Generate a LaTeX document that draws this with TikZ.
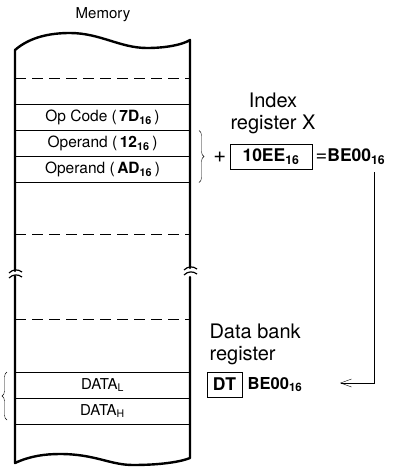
\documentclass[tikz,border=0pt]{standalone}
\usepackage{fontspec}
\setmainfont{TeX Gyre Heros}
\usetikzlibrary{positioning,arrows.meta,decorations.pathreplacing}

\newcommand{\hexv}[1]{\textbf{#1}\textsubscript{\bfseries 16}}
\newcommand{\paren}[1]{\ (\,#1\,)}

\begin{document}
\begin{tikzpicture}[
  x=1pt, y=-1pt,
  cell/.style={draw, thin, minimum width=175pt, minimum height=26pt, inner sep=0pt,
               outer sep=0pt, font=\fontsize{15.5}{17}\selectfont},
  side/.style={line width=2.4pt, line join=round, line cap=round},
  sep/.style={thin, dash pattern=on 11pt off 6pt},
  regbox/.style={draw, thin, minimum height=25pt, inner sep=2pt,
                 font=\fontsize{17.5}{19}\selectfont},
  lbl/.style={font=\fontsize{20}{22}\selectfont},
  tick/.style={line width=1.2pt},
  arrow/.style={-{Straight Barb[length=11pt, width=8pt]}, thin}
]
  \useasboundingbox (0,0) rectangle (397,469);

  \node[font=\fontsize{15}{17}\selectfont] (memlbl) at (103,15) {Memory};

  % cells of the memory
  \node[cell] (opc) at (102.5,117.5) {Op Code\paren{\hexv{7D}}};
  \node[cell, below=0pt of opc] (opa) {Operand\paren{\hexv{12}}};
  \node[cell, below=0pt of opa] (opb) {Operand\paren{\hexv{AD}}};
  \node[cell, font=\fontsize{15}{17}\selectfont] (datl) at (102.5,385) {DATA\textsubscript{L}};
  \node[cell, font=\fontsize{15}{17}\selectfont, below=0pt of datl] (dath) {DATA\textsubscript{H}};

  \foreach \y in {78,234,319}
    \draw[sep] (15,\y) -- (190,\y);

  % outline
  \draw[side] (15,271) -- (15,50)
    .. controls (30,37) and (50,33) .. (70,33)
    .. controls (100,33) and (120,48) .. (147,48)
    .. controls (165,48) and (182,45) .. (190,40) -- (190,268);
  \draw[side] (190,277) -- (190,458)
    .. controls (180,462) and (160,465) .. (133,465)
    .. controls (110,465) and (95,454) .. (60,454)
    .. controls (45,454) and (30,456) .. (15,463) -- (15,276);
  \draw[tick] (9,273) .. controls (13,269) and (18,269) .. (22,272);
  \draw[tick] (9,278) .. controls (13,274) and (18,274) .. (22,277);
  \draw[tick] (184,270) .. controls (188,266) and (193,266) .. (197,269);
  \draw[tick] (184,275) .. controls (188,271) and (193,271) .. (197,274);

  % index register
  \node[lbl, align=center] (idxlbl) at (273,113) {Index\\register X};
  \node[regbox, minimum width=82pt] (idx) at (271,157) {\hexv{10EE}};
  \node[font=\fontsize{22}{24}\selectfont, left=0pt of idx] (plus) {+};
  \node[font=\fontsize{17.5}{19}\selectfont, right=0pt of idx] (res)
    {{\fontsize{20}{22}\selectfont=}\hexv{BE00}};
  \draw[thin, decorate, decoration={brace, amplitude=5pt}]
    (opa.north east) ++(9,0) coordinate (bra) -- (bra |- opb.south);

  % data bank register
  \node[lbl, align=left, anchor=west] (dtlbl) at (206,344) {Data bank\\register};
  \node[regbox, minimum width=35pt] (dt) at (224.5,384.5) {\textbf{DT}};
  \node[font=\fontsize{16.5}{18}\selectfont, right=2pt of dt] (dtval) {\hexv{BE00}};
  \draw[thin, decorate, decoration={brace, amplitude=5pt}]
    (datl.north west) ++(-8,48) coordinate (brb) -- ++(0,-48);

  \coordinate (bend) at (374,383);
  \coordinate (tip) at (340,383);
  \draw[arrow] ([yshift=-4pt]res.south -| bend) -- (bend) -- (tip);
\end{tikzpicture}
\end{document}
